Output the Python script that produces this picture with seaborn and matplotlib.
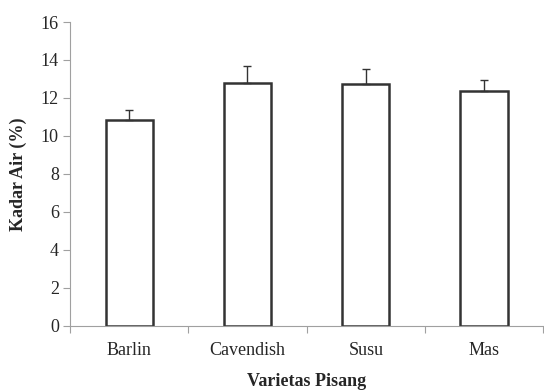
import numpy as np
import pandas as pd
import seaborn as sns
import matplotlib.pyplot as plt

varietas = ["Barlin", "Cavendish", "Susu", "Mas"]
kadar_air = [10.82, 12.77, 12.73, 12.38]
galat = [0.56, 0.90, 0.81, 0.58]

df = pd.DataFrame({"varietas": varietas, "kadar_air": kadar_air})

sns.set_theme(style="white")
plt.rcParams["font.family"] = ["Liberation Serif", "DejaVu Serif"]

fig = plt.figure(figsize=(5.44, 3.91), dpi=100)
ax = fig.add_axes([0.1287, 0.167, 0.87, 0.7767])

sns.barplot(data=df, x="varietas", y="kadar_air", color="white",
            edgecolor="#333333", linewidth=1.8, width=0.4,
            errorbar=None, ax=ax)
ax.errorbar(np.arange(len(varietas)), kadar_air,
            yerr=[np.zeros(len(galat)), galat], fmt="none",
            ecolor="#333333", elinewidth=1.0, capsize=3, capthick=1.0)

ax.set_xlim(-0.5, 3.5)
ax.set_ylim(0, 16)
ax.set_yticks(range(0, 17, 2))
ax.set_xticks(np.arange(-0.5, 4.0, 1.0), minor=True)
ax.tick_params(axis="x", which="major", length=0, labelsize=13, pad=12)
ax.tick_params(axis="x", which="minor", length=5, color="#a0a0a0",
               width=0.8, direction="out", bottom=True)
ax.tick_params(axis="y", length=5, color="#a0a0a0", width=0.8,
               direction="out", labelsize=13, left=True, pad=3)

for side in ["top", "right"]:
    ax.spines[side].set_visible(False)
for side in ["left", "bottom"]:
    ax.spines[side].set_color("#a0a0a0")
    ax.spines[side].set_linewidth(0.8)

ax.set_xlabel("Varietas Pisang", fontsize=13, fontweight="bold", labelpad=10)
ax.set_ylabel("Kadar Air (%)", fontsize=13, fontweight="bold", labelpad=10)

fig.savefig("out.png", dpi=100)
